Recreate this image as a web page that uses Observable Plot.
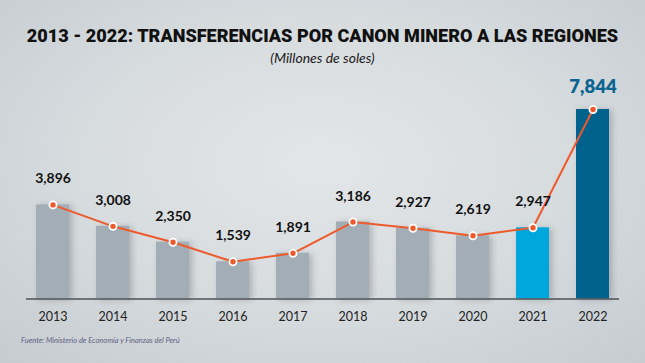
<!DOCTYPE html>
<html><head><meta charset="utf-8">
<script src="https://cdn.jsdelivr.net/npm/d3@7"></script>
<script src="https://cdn.jsdelivr.net/npm/@observablehq/plot@0.6"></script>
<style>
body{margin:0;background:#d5dadd;}
#c{width:645px;height:363px;overflow:hidden;background:radial-gradient(ellipse 70% 75% at 50% 45%, #e3e6e9 0%, #d6dbde 55%, #c6ccd1 100%);font-family:Lato,"Open Sans",sans-serif;}
#t{height:22px;line-height:22px;padding-top:23.5px;text-align:center;font-family:Roboto,sans-serif;font-weight:900;font-size:20px;color:#111;white-space:nowrap;}
#s{height:18px;line-height:18px;margin-top:3.5px;text-align:center;font-family:Lato,sans-serif;font-style:italic;font-size:14px;color:#1a1a1a;}
#p{height:265px;margin-top:3px;}
#p svg{display:block;overflow:visible;}
#f{height:10px;line-height:10px;margin-top:1px;padding-left:21px;font-family:Lato,sans-serif;font-style:italic;font-size:7.5px;color:#5f6283;}
</style></head>
<body>
<div id="c">
<div id="t"><span id="ts">2013 - 2022: TRANSFERENCIAS POR CANON MINERO A LAS REGIONES</span></div>
<div id="s">(Millones de soles)</div>
<div id="p"></div>
<div id="f">Fuente: Ministerio de Economía y Finanzas del Perú</div>
</div>
<script>
const years = ["2013","2014","2015","2016","2017","2018","2019","2020","2021","2022"];
const values = [3896, 3008, 2350, 1539, 1891, 3186, 2927, 2619, 2947, 7844];
const valueLabels = ["3,896","3,008","2,350","1,539","1,891","3,186","2,927","2,619","2,947","7,844"];

// fit title width
const ts = document.getElementById("ts");
const w0 = ts.getBoundingClientRect().width;
ts.style.fontSize = (20 * 592 / w0) + "px";

const data = years.map((year, i) => ({year, value: values[i], label: valueLabels[i]}));
const last = years[years.length - 1];
const prev = years[years.length - 2];
const barFill = d => d.year === last ? "#02628e" : d.year === prev ? "#00a7dc" : "#a2adb5";

const chart = Plot.plot({
  width: 645, height: 265,
  marginLeft: 26, marginRight: 26, marginTop: 39, marginBottom: 36.5,
  x: {type: "band", domain: years, paddingInner: 0.447, paddingOuter: 0.1145, axis: null},
  y: {domain: [0, d3.max(values)], axis: null},
  style: {background: "transparent", overflow: "visible"},
  marks: [
    Plot.barY(data, {x: "year", y: "value", fill: barFill}),
    Plot.ruleY([0], {stroke: "#4c5257", strokeWidth: 1.6}),
    Plot.lineY(data, {x: "year", y: "value", stroke: "#ee5a2b", strokeWidth: 2}),
    Plot.dot(data, {x: "year", y: "value", r: 3.6, fill: "#ee5a2b", stroke: "#fff", strokeWidth: 1.8}),
    Plot.text(data.filter(d => d.year !== last), {x: "year", y: "value", text: "label", dy: -26, fontSize: 14, fontWeight: 700, fill: "#111", fontFamily: "Lato, sans-serif"}),
    Plot.text(data.filter(d => d.year === last), {x: "year", y: "value", text: "label", dy: -22, fontSize: 18.5, fontWeight: 800, fill: "#0b6591", fontFamily: "Lato, sans-serif"}),
    Plot.text(data, {x: "year", y: 0, text: "year", dy: 17.5, fontSize: 12.5, fill: "#222", fontFamily: "Lato, sans-serif"})
  ]
});
document.getElementById("p").appendChild(chart);
d3.select(chart).selectAll("g[aria-label='bar'] rect").style("filter", "drop-shadow(3px 1px 3px rgba(0,0,0,0.2))");
</script>
</body></html>
